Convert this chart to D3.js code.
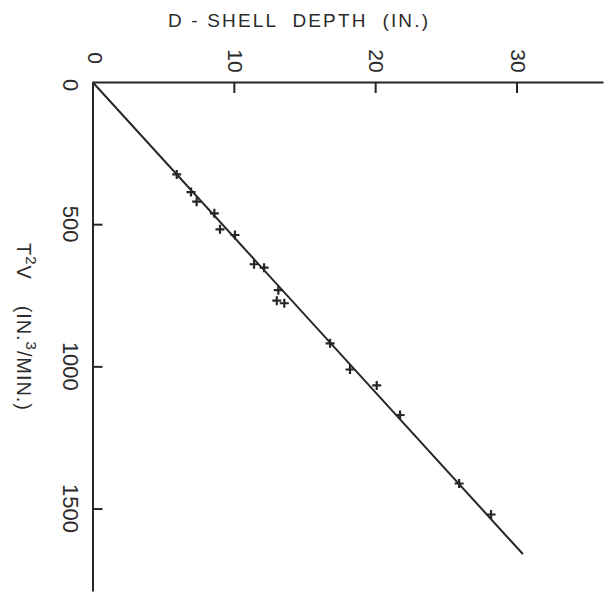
<!DOCTYPE html>
<html><head><meta charset="utf-8">
<script src="https://cdn.jsdelivr.net/npm/d3@7"></script>
<style>
html,body{margin:0;padding:0;background:#fff;}
svg{display:block;}
text{font-family:"Liberation Sans",Arial,sans-serif;fill:#2b2b2b;}
</style></head>
<body>
<script>
// Data
const depth = [5.96, 6.97, 7.37, 8.62, 9.02, 10.08, 11.43, 12.14, 13.15, 13.04, 13.57, 16.81, 18.22, 20.11, 21.76, 25.94, 28.2];
const t2v   = [325, 387, 421, 462, 518, 538, 641, 653, 732, 769, 778, 919, 1011, 1067, 1171, 1412, 1521];
const fitDepth = [0, 30.45];
const fitT2V   = [0, 1660];
const xTicks = [0, 10, 20, 30];
const yTicks = [0, 500, 1000, 1500];
const xTitle = "D - SHELL  DEPTH  (IN.)";

const W = 614, H = 592;
const svg = d3.select("body").append("svg").attr("width", W).attr("height", H);

const x = d3.scaleLinear().domain([0, 36.12]).range([92.5, 603]);
const y = d3.scaleLinear().domain([0, 1790]).range([82, 591]);
const ink = "#262626";

// top axis (ticks pointing inward / down)
const gx = svg.append("g").attr("transform", `translate(0,${y(0)})`)
  .call(d3.axisBottom(x).tickValues(xTicks.filter(d => d > 0)).tickSize(11).tickSizeOuter(0).tickFormat(""));
gx.select(".domain").attr("stroke", ink).attr("stroke-width", 2);
gx.selectAll(".tick line").attr("stroke", ink).attr("stroke-width", 2);

// left axis (ticks pointing inward / right)
const gy = svg.append("g").attr("transform", `translate(${x(0)},0)`)
  .call(d3.axisRight(y).tickValues(yTicks.filter(d => d > 0)).tickSize(10).tickSizeOuter(0).tickFormat(""));
gy.select(".domain").attr("stroke", ink).attr("stroke-width", 2);
gy.selectAll(".tick line").attr("stroke", ink).attr("stroke-width", 2);

// x tick labels, rotated
svg.selectAll("text.xl").data(xTicks).join("text").attr("class", "xl")
  .attr("transform", d => `translate(${x(d) + (d === 0 ? 2.5 : 1.5)},${d === 0 ? 58 : 61}) rotate(90)`)
  .attr("text-anchor", "middle").attr("dominant-baseline", "central")
  .attr("font-size", 21).text(d => d);

// y tick labels, rotated
svg.selectAll("text.yl").data(yTicks).join("text").attr("class", "yl")
  .attr("transform", d => `translate(70,${y(d) + (d === 0 ? 3 : 0)}) rotate(90)`)
  .attr("text-anchor", "middle").attr("dominant-baseline", "central")
  .attr("font-size", 22).text(d => d);

// x title
svg.append("text").attr("x", 168).attr("y", 27)
  .attr("font-size", 19).attr("textLength", 260).attr("lengthAdjust", "spacing")
  .style("white-space", "pre").text(xTitle);

// y title, rotated
const yt = svg.append("text").attr("transform", "translate(17,243) rotate(90)")
  .attr("font-size", 20).attr("textLength", 167).attr("lengthAdjust", "spacing")
  .style("white-space", "pre");
yt.append("tspan").text("T");
yt.append("tspan").attr("font-size", 15).attr("dy", -9).text("2");
yt.append("tspan").attr("dy", 9).text("V    (IN.");
yt.append("tspan").attr("font-size", 15).attr("dy", -9).text("3");
yt.append("tspan").attr("dy", 9).text("/MIN.)");

// fit line
svg.append("path")
  .attr("d", d3.line().x(d => x(d[0])).y(d => y(d[1]))(fitDepth.map((d, i) => [d, fitT2V[i]])))
  .attr("fill", "none").attr("stroke", ink).attr("stroke-width", 2);

// plus markers
const s = 4.5;
svg.selectAll("path.pt").data(depth.map((d, i) => [d, t2v[i]])).join("path").attr("class", "pt")
  .attr("d", d => {
    const cx = x(d[0]), cy = y(d[1]);
    return `M${cx - s},${cy}H${cx + s}M${cx},${cy - s}V${cy + s}`;
  })
  .attr("stroke", ink).attr("stroke-width", 2.2).attr("fill", "none");
</script>
</body></html>
